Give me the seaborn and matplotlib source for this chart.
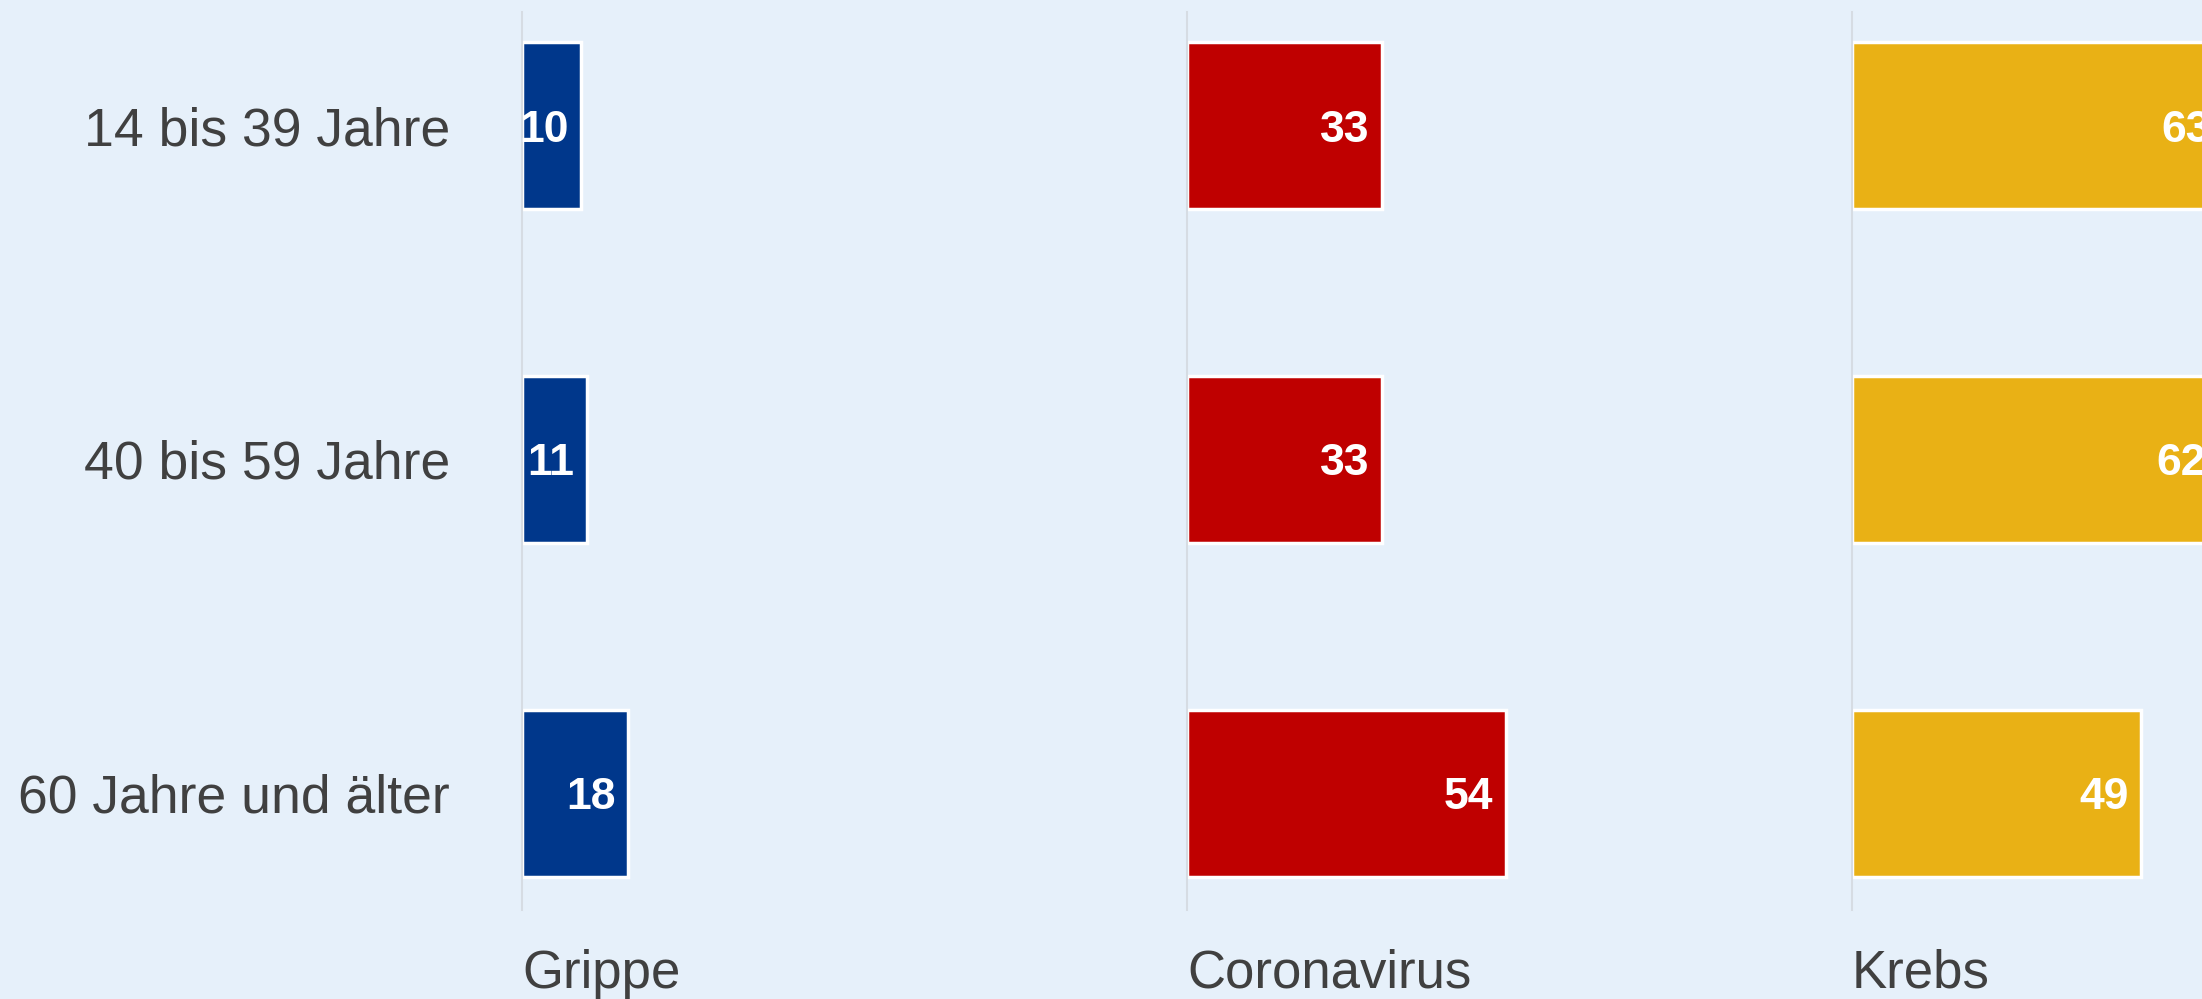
import matplotlib
matplotlib.use("Agg")
import matplotlib.pyplot as plt
import seaborn as sns
import pandas as pd

sns.set_theme(style="white")
plt.rcParams["font.family"] = ["Liberation Sans", "DejaVu Sans"]

BG = "#E6F0FA"
TEXT = "#404040"
AXLINE = "#D6DCE3"

age_groups = ["14 bis 39 Jahre", "40 bis 59 Jahre", "60 Jahre und älter"]
diseases = ["Grippe", "Coronavirus", "Krebs"]
grippe = [10, 11, 18]
corona = [33, 33, 54]
krebs = [63, 62, 49]
colors = ["#00378B", "#BF0000", "#E9B115"]

values = [grippe, corona, krebs]

W, H = 2202, 999
fig = plt.figure(figsize=(W / 100, H / 100), dpi=100, facecolor=BG)

# panel geometry (px): axis lines at 522 / 1187 / 1852, panel width ~590 px
lefts = [522, 1187, 1852]
panel_w = 590
bottom, top = 89, 987

for i, (name, vals, col) in enumerate(zip(diseases, values, colors)):
    ax = fig.add_axes([lefts[i] / W, bottom / H, panel_w / W, (top - bottom) / H])
    ax.set_facecolor(BG)
    df = pd.DataFrame({"group": age_groups, "value": vals})
    sns.barplot(data=df, y="group", x="value", orient="h", color=col,
                width=0.5, edgecolor="white", linewidth=2.5, saturation=1, ax=ax)
    ax.set_xlim(0, 100)
    ax.set_ylim(2.35, -0.34)
    for v, y in zip(vals, range(len(vals))):
        ax.annotate(str(v), xy=(v, y), xytext=(-9, 0), textcoords="offset points",
                    ha="right", va="center_baseline", color="white", fontsize=32,
                    fontweight="bold", annotation_clip=False)
    ax.set_xticks([])
    ax.set_xlabel(name, loc="left", fontsize=38, color=TEXT, labelpad=28)
    ax.set_ylabel("")
    if i == 0:
        ax.tick_params(axis="y", length=0, pad=52, labelsize=38.5, labelcolor=TEXT)
        for lab in ax.get_yticklabels():
            lab.set_verticalalignment("center_baseline")
    else:
        ax.set_yticks([])
    ax.spines[["top", "right", "bottom"]].set_visible(False)
    ax.spines["left"].set_color(AXLINE)
    ax.spines["left"].set_linewidth(1.5)

plt.savefig("out.png", dpi=100, facecolor=BG)
